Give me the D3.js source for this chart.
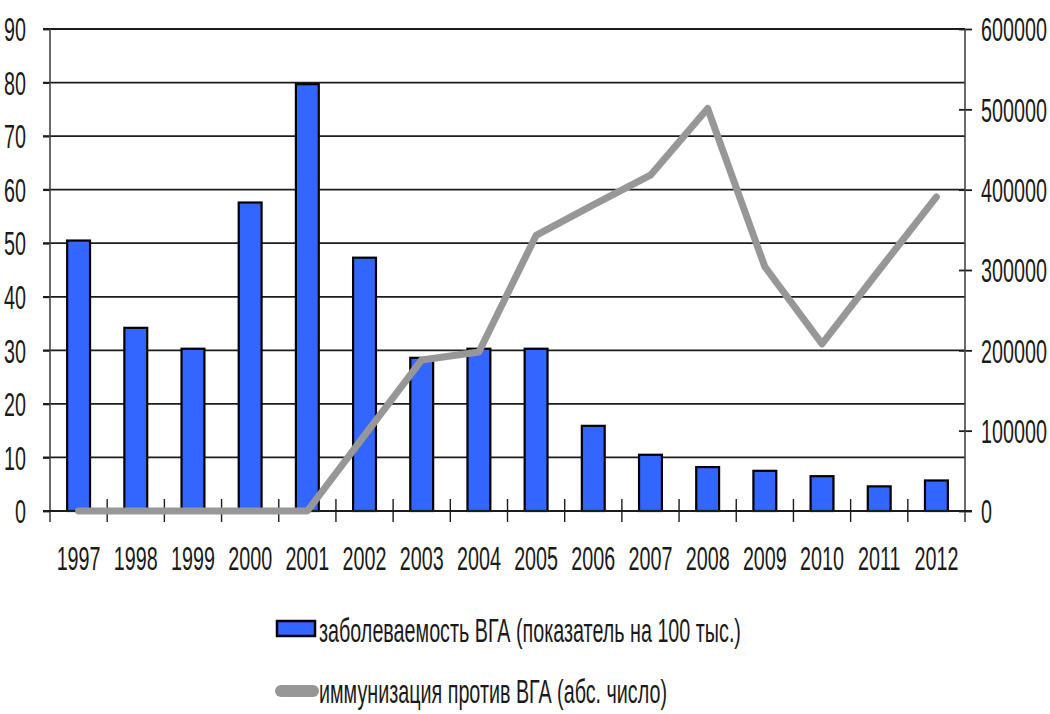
<!DOCTYPE html>
<html><head><meta charset="utf-8">
<script src="https://cdn.jsdelivr.net/npm/d3@7"></script>
<style>
html,body{margin:0;padding:0;background:#fff;}
svg{display:block;}
text{font-family:"Liberation Sans Narrow","Arial Narrow","Liberation Sans",Arial,sans-serif;fill:#1a1a1a;}
</style></head>
<body>
<svg id="chart" width="1050" height="714"></svg>
<script>
const years = ["1997","1998","1999","2000","2001","2002","2003","2004","2005","2006","2007","2008","2009","2010","2011","2012"];
const incidence = [50.5,34.2,30.3,57.6,79.7,47.3,28.6,30.3,30.3,15.9,10.5,8.2,7.5,6.5,4.6,5.7];
const immunization = [0,0,0,0,0,94000,188000,198000,343000,381000,418000,501000,304000,208000,300000,391000];
const leftTicks = [0,10,20,30,40,50,60,70,80,90];
const rightTicks = [0,100000,200000,300000,400000,500000,600000];
const legendLabels = ["заболеваемость ВГА (показатель на 100 тыс.)","иммунизация против ВГА (абс. число)"];

const svg = d3.select("#chart");
const L = 50, R = 965, T = 29, B = 511;
const FS = 24, SY = 1.36;

const xCat = d3.scaleBand().domain(years).range([L, R]);
const xBar = d3.scaleBand().domain(years).range([L, R]).paddingInner(0.6).paddingOuter(0.3);
const yL = d3.scaleLinear().domain([0, 90]).range([B, T]);
const yR = d3.scaleLinear().domain([0, 600000]).range([B, T]);

const probe = svg.append("text").attr("font-size", FS).text(legendLabels[0]);
const sx = Math.min(1.3, 422 / probe.node().getComputedTextLength());
probe.remove();

function styleText(sel, anchor){
  sel.each(function(){
    const t = d3.select(this);
    const x = +t.attr("x") || 0, y = +t.attr("y") || 0;
    t.attr("x", null).attr("y", null).attr("dy", "0.36em")
     .attr("font-size", FS).attr("text-anchor", anchor)
     .attr("fill", "#1a1a1a")
     .attr("transform", `translate(${x},${y}) scale(${sx},${SY})`);
  });
}

// gridlines
svg.append("g").selectAll("line").data(leftTicks.filter(d => d > 0)).join("line")
  .attr("x1", L - 7).attr("x2", R).attr("y1", d => yL(d)).attr("y2", d => yL(d))
  .attr("stroke", "#1c1c1c").attr("stroke-width", 1.8);

// bars
svg.append("g").selectAll("rect").data(incidence).join("rect")
  .attr("x", (d, i) => xBar(years[i]))
  .attr("width", xBar.bandwidth())
  .attr("y", d => yL(d))
  .attr("height", d => B - yL(d))
  .attr("fill", "#3366ff").attr("stroke", "#000").attr("stroke-width", 2.2);

// left axis
const gL = svg.append("g").attr("transform", `translate(${L},0)`)
  .call(d3.axisLeft(yL).tickValues(leftTicks).tickSize(7).tickPadding(17));
gL.select(".domain").remove();
gL.selectAll(".tick line").attr("stroke", "#1c1c1c").attr("stroke-width", 1.8);
styleText(gL.selectAll(".tick text"), "end");
gL.attr("font-family", null);

svg.append("line").attr("x1", L).attr("x2", L).attr("y1", T).attr("y2", B + 11)
  .attr("stroke", "#444").attr("stroke-width", 1.6);

// right axis
const gR = svg.append("g").attr("transform", `translate(${R},0)`)
  .call(d3.axisRight(yR).tickValues(rightTicks).tickFormat(d3.format("d")).tickSize(7).tickPadding(9));
gR.select(".domain").remove();
gR.selectAll(".tick line").attr("x1", -6).attr("stroke", "#1c1c1c").attr("stroke-width", 1.8);
styleText(gR.selectAll(".tick text"), "start");
gR.attr("font-family", null);
svg.append("line").attr("x1", R).attr("x2", R).attr("y1", T).attr("y2", B + 11)
  .attr("stroke", "#444").attr("stroke-width", 1.6);

// bottom axis line
svg.append("line").attr("x1", L - 7).attr("x2", R + 7).attr("y1", B).attr("y2", B)
  .attr("stroke", "#1c1c1c").attr("stroke-width", 1.8);
// category boundary ticks
svg.append("g").selectAll("line").data(years.slice(1)).join("line")
  .attr("x1", d => xCat(d)).attr("x2", d => xCat(d))
  .attr("y1", B - 12).attr("y2", B + 11)
  .attr("stroke", "#1c1c1c").attr("stroke-width", 1.4);

// bottom labels
const gB = svg.append("g").attr("transform", `translate(0,${B})`)
  .call(d3.axisBottom(xCat).tickSize(0).tickPadding(47));
gB.select(".domain").remove();
styleText(gB.selectAll(".tick text"), "middle");
gB.attr("font-family", null);

// line
const line = d3.line().x((d, i) => xCat(years[i]) + xCat.bandwidth() / 2).y(d => yR(d));
svg.append("path").datum(immunization).attr("d", line)
  .attr("fill", "none").attr("stroke", "#979797").attr("stroke-width", 7)
  .attr("stroke-linejoin", "round").attr("stroke-linecap", "round");

// legend
svg.append("rect").attr("x", 277).attr("y", 621).attr("width", 38).attr("height", 15)
  .attr("fill", "#3366ff").attr("stroke", "#000").attr("stroke-width", 2.5);
svg.append("line").attr("x1", 281).attr("x2", 313).attr("y1", 691).attr("y2", 691)
  .attr("stroke", "#979797").attr("stroke-width", 12).attr("stroke-linecap", "round");
svg.append("g").selectAll("text").data(legendLabels).join("text")
  .attr("font-size", FS).attr("dy", "0.36em").attr("fill", "#1a1a1a")
  .attr("transform", (d, i) => `translate(319,${i === 0 ? 630 : 691}) scale(${sx},${SY})`)
  .text(d => d);
</script>
</body></html>
